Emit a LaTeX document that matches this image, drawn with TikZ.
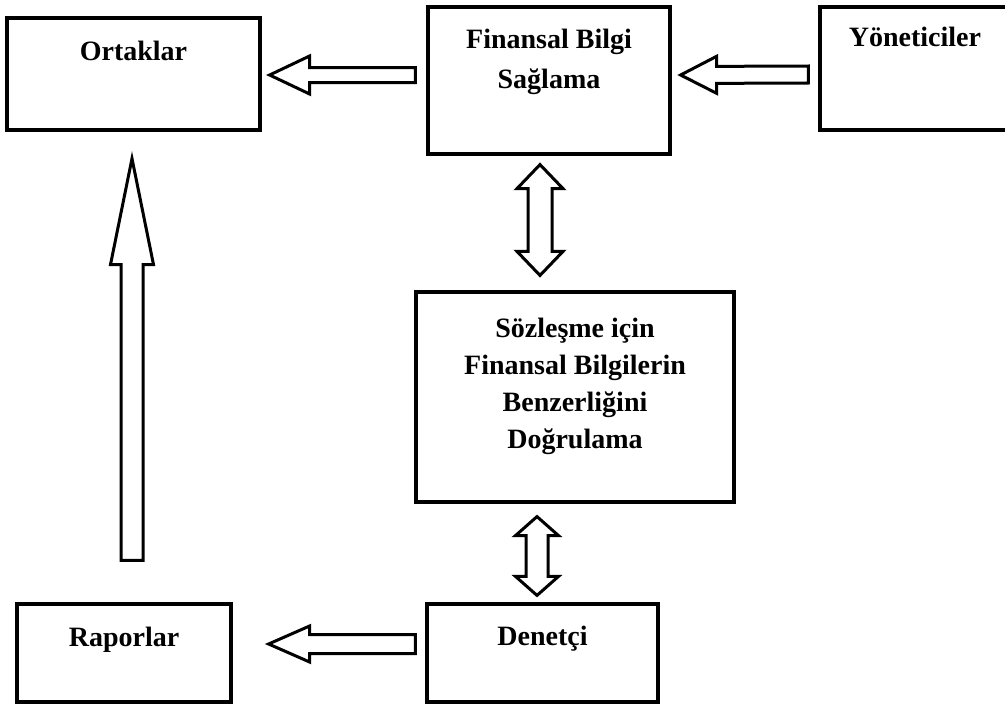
\documentclass[tikz,border=0pt]{standalone}
\usepackage{fontspec}
\setmainfont{Liberation Serif}
\usetikzlibrary{calc,positioning}

\tikzset{
  box/.style={draw, line width=3.2pt, inner sep=0pt},
  lbl/.style={font=\bfseries\fontsize{28}{38}\selectfont, align=center, inner sep=0pt, anchor=north},
  arrowline/.style={line width=3pt, fill=white, line join=miter, miter limit=25},
  % length, head length, head half width, shaft half width
  pics/fatarrow/.style n args={4}{code={
    \draw[arrowline] (0pt,-#4) -- (#1-#2,-#4) -- (#1-#2,-#3) -- (#1,0pt)
      -- (#1-#2,#3) -- (#1-#2,#4) -- (0pt,#4) -- cycle;
  }},
  pics/fatdarrow/.style n args={4}{code={
    \draw[arrowline] (#2,-#4) -- (#1-#2,-#4) -- (#1-#2,-#3) -- (#1,0pt)
      -- (#1-#2,#3) -- (#1-#2,#4) -- (#2,#4) -- (#2,#3) -- (0pt,0pt)
      -- (#2,-#3) -- cycle;
  }},
}

\begin{document}
\begin{tikzpicture}[x=1pt,y=-1pt]
  \useasboundingbox (0,0) rectangle (1005,704);

  % boxes
  \node[box, minimum width=253, minimum height=112] (ortak) at (133.5,74) {};
  \node[box, minimum width=242, minimum height=147] (fin) at (549,80.5) {};
  \node[box, minimum width=190, minimum height=123] (yon) at (915,68.5) {};
  \node[box, minimum width=318, minimum height=210] (soz) at (575,397) {};
  \node[box, minimum width=231, minimum height=98] (den) at (542.5,653) {};
  \node[box, minimum width=214, minimum height=98] (rap) at (124,653) {};

  % texts
  \node[lbl, below=24pt of ortak.north] (ortakt) {Ortaklar};
  \node[lbl, below=23.5pt of fin.north] (fint) {Finansal Bilgi\\[2pt] Sağlama};
  \node[lbl, below=21.5pt of yon.north] (yont) {Yöneticiler};
  \node[lbl, below=27pt of soz.north] (sozt)
    {Sözleşme için\\[-1pt] Finansal Bilgilerin\\[-1pt] Benzerliğini\\[-1pt] Doğrulama};
  \node[lbl, below=23pt of den.north] (dent) {Denetçi};
  \node[lbl, below=24.5pt of rap.north] (rapt) {Raporlar};

  % arrow ends
  \coordinate (a1s) at ($(fin.west)+(-11,-5.5)$);
  \coordinate (a1e) at ($(ortak.east)+(8,1)$);
  \coordinate (a2s) at ($(yon.west)+(-10,6)$);
  \coordinate (a2e) at ($(fin.east)+(9,-5.5)$);
  \coordinate (a3s) at ($(fin.south)+(-9,9)$);
  \coordinate (a3e) at ($(soz.north)+(-35,-15)$);
  \coordinate (a4s) at ($(soz.south)+(-38,13)$);
  \coordinate (a4e) at ($(den.north)+(-5.5,-7)$);
  \coordinate (a5s) at ($(den.west)+(-10,-9)$);
  \coordinate (a5e) at ($(rap.east)+(36,-9)$);
  \coordinate (a6s) at ($(rap.north)+(8,-42)$);
  \coordinate (a6e) at ($(ortak.south)+(-1.5,27)$);

  % arrows
  \path let \p1=(a1s), \p2=(a1e), \n1={atan2(\y2-\y1,\x2-\x1)}, \n2={veclen(\x2-\x1,\y2-\y1)}
    in pic[rotate=\n1] at (\p1) {fatarrow={\n2}{40pt}{19pt}{7.5pt}};
  \path let \p1=(a2s), \p2=(a2e), \n1={atan2(\y2-\y1,\x2-\x1)}, \n2={veclen(\x2-\x1,\y2-\y1)}
    in pic[rotate=\n1] at (\p1) {fatarrow={\n2}{36pt}{18.5pt}{8.5pt}};
  \path let \p1=(a3s), \p2=(a3e), \n1={atan2(\y2-\y1,\x2-\x1)}, \n2={veclen(\x2-\x1,\y2-\y1)}
    in pic[rotate=\n1] at (\p1) {fatdarrow={\n2}{24pt}{23pt}{12pt}};
  \path let \p1=(a4s), \p2=(a4e), \n1={atan2(\y2-\y1,\x2-\x1)}, \n2={veclen(\x2-\x1,\y2-\y1)}
    in pic[rotate=\n1] at (\p1) {fatdarrow={\n2}{19pt}{21.5pt}{11pt}};
  \path let \p1=(a5s), \p2=(a5e), \n1={atan2(\y2-\y1,\x2-\x1)}, \n2={veclen(\x2-\x1,\y2-\y1)}
    in pic[rotate=\n1] at (\p1) {fatarrow={\n2}{41pt}{18pt}{9.5pt}};
  \path let \p1=(a6s), \p2=(a6e), \n1={atan2(\y2-\y1,\x2-\x1)}, \n2={veclen(\x2-\x1,\y2-\y1)}
    in pic[rotate=\n1] at (\p1) {fatarrow={\n2}{106pt}{21.5pt}{11pt}};
\end{tikzpicture}
\end{document}
